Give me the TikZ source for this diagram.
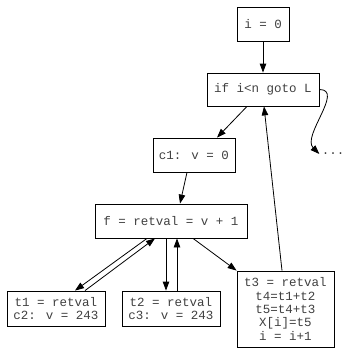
\documentclass[tikz,border=0pt]{standalone}
\usepackage{fontspec}
\newfontfamily\codefont{Liberation Mono}
\usetikzlibrary{arrows.meta}
\tikzset{
	blk/.style={draw, inner sep=0pt, align=center, text=black!75, font=\codefont\fontsize{12.5}{13.3}\selectfont},
	arr/.style={-{Triangle[length=9pt,width=6.5pt]}, line width=0.8pt}
}
\begin{document}
\begin{tikzpicture}[x=1pt, y=1pt, line width=0.8pt]
			\useasboundingbox (0,0) rectangle (344,-348);
			\node[blk, minimum width=52pt, minimum height=34pt] (init) at (263, -24) {i = 0};
			\node[blk, minimum width=112pt, minimum height=33pt] (test) at (263, -89.5) {if i<n goto L};
			\node[blk, minimum width=82pt, minimum height=34pt] (call1) at (194, -155) {c1: v = 0};
			\node[blk, minimum width=152pt, minimum height=34pt] (fent) at (171, -221) {f = retval = v + 1};
			\node[blk, minimum width=98pt, minimum height=35pt] (ret1) at (56, -308.5) {t1 = retval\\c2: v = 243};
			\node[blk, minimum width=98pt, minimum height=35pt] (ret2) at (171, -308.5) {t2 = retval\\c3: v = 243};
			\node[blk, minimum width=97pt, minimum height=76pt] (ret3) at (285.5, -309) {t3 = retval\\t4=t1+t2\\t5=t4+t3\\X[i]=t5\\i = i+1};
			\node[blk, draw=none, inner sep=2pt] (dots) at (333, -154) {...};
			\draw[arr] (init.south) -- (test.north);
			\draw[arr] ([xshift=-16pt]test.south) -- ([xshift=23pt]call1.north);
			\draw[arr] (test.east) to [out=0,in=135] (dots.west);
			\draw[arr] ([xshift=-7pt]call1.south) -- ([xshift=9pt]fent.north);
			\draw[arr] ([xshift=-24pt]fent.south) -- ([xshift=19pt]ret1.north);
			\draw[arr] ([xshift=29pt]ret1.north) -- ([xshift=-16pt]fent.south);
			\draw[arr] ([xshift=-5pt]fent.south) -- ([xshift=-5pt]ret2.north);
			\draw[arr] ([xshift=6pt]ret2.north) -- ([xshift=6pt]fent.south);
			\draw[arr] ([xshift=22pt]fent.south) -- (ret3.north west);
			\draw[arr] ([xshift=-3.5pt]ret3.north) -- ([xshift=1pt]test.south);
		\end{tikzpicture}
\end{document}
